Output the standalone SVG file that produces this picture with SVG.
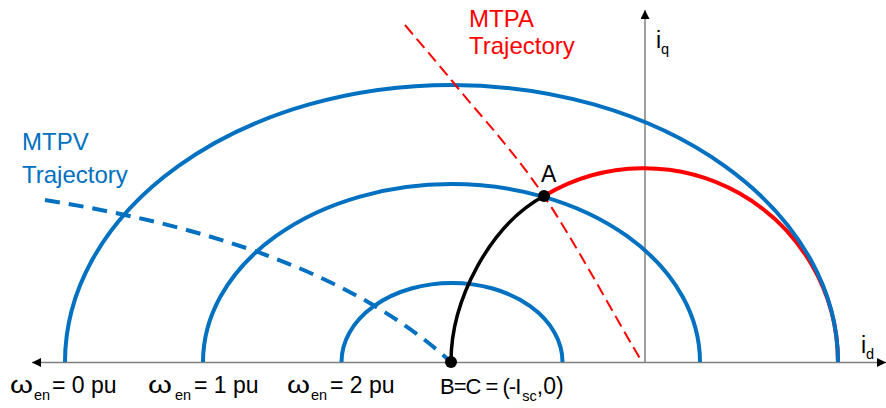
<svg xmlns="http://www.w3.org/2000/svg" width="886" height="408" viewBox="0 0 886 408">
<style>
text{font-family:"Liberation Sans",Arial,sans-serif;font-size:23px;fill:#000}
.big{font-size:24px}
.sub{font-size:14.5px}
.blue{fill:#0070C0}
.red{fill:#FF0000}
.ell{fill:none;stroke:#0070C0;stroke-width:4}
.axis{stroke:#7F7F7F;stroke-width:1.5;fill:none}
</style>
<defs>
<marker id="arr" viewBox="0 0 10 10" refX="10" refY="5" markerWidth="9" markerHeight="9" markerUnits="userSpaceOnUse" orient="auto-start-reverse">
<path d="M0,0 L10,5 L0,10 z" fill="#000"/>
</marker>
</defs>
<g id="axes">
<line class="axis" x1="32" y1="362.5" x2="886" y2="362.5" marker-start="url(#arr)" marker-end="url(#arr)"/>
<line class="axis" x1="645" y1="362.5" x2="645" y2="10" stroke-width="1" marker-end="url(#arr)"/>
</g>
<g id="mtpa-circle">
<path d="M544,196 A194,194 0 0 1 838,362" fill="none" stroke="#FF0000" stroke-width="4"/>
</g>
<g id="voltage-ellipses">
<path class="ell" d="M65,362 A386.5,277 0 0 1 838,362"/>
<path class="ell" d="M203,362 A248.5,178 0 0 1 700,362"/>
<path class="ell" d="M341.5,362 A110.5,79 0 0 1 562.5,362"/>
</g>
<g id="connectors">
<path id="mtpv-trajectory" d="M45,200 C200,225 350,270 451,362" fill="none" stroke="#0070C0" stroke-width="4" stroke-dasharray="15 9"/>
<path id="mtpa-trajectory" d="M405,25 C422.3,45.7 433.8,58.5 457,87 C480.2,115.5 513.2,150.2 544,196 C574.8,241.8 609.3,306.7 642,362" fill="none" stroke="#FF0000" stroke-width="2" stroke-dasharray="12 6"/>
<path id="b-to-a" d="M451,362 C451,300 490,225 544,196" fill="none" stroke="#000" stroke-width="3.5"/>
</g>
<g id="point-a">
<circle cx="544" cy="196" r="6" fill="#000"/>
<text x="541" y="182" font-size="22">A</text>
</g>
<g id="point-b">
<circle cx="451" cy="362" r="6" fill="#000"/>
</g>
<g id="labels">
<text class="red big" x="469" y="27">MTPA</text>
<text class="red big" x="469" y="54">Trajectory</text>
<text class="blue big" x="22" y="150">MTPV</text>
<text class="blue big" x="22" y="183">Trajectory</text>
<text x="656" y="48">i<tspan class="sub" x="661" y="54">q</tspan></text>
<text x="861" y="353">i<tspan class="sub" x="866" y="359">d</tspan></text>
<g id="label-w0">
<text x="10" y="393" textLength="23" lengthAdjust="spacingAndGlyphs">ω</text>
<text class="sub" x="34" y="400">en</text>
<text x="52" y="393">= 0 pu</text>
</g>
<g id="label-w1">
<text x="148" y="393" textLength="24" lengthAdjust="spacingAndGlyphs">ω</text>
<text class="sub" x="175" y="400">en</text>
<text x="194" y="393">= 1 pu</text>
</g>
<g id="label-w2">
<text x="287" y="393" textLength="23" lengthAdjust="spacingAndGlyphs">ω</text>
<text class="sub" x="311" y="400">en</text>
<text x="330" y="393">= 2 pu</text>
</g>
<g id="label-bc">
<text x="440" y="394"><tspan font-size="22" letter-spacing="-1">B=C = (-I</tspan><tspan class="sub" dx="2" y="401">sc</tspan><tspan y="394">,0)</tspan></text>
</g>
</g>
</svg>
